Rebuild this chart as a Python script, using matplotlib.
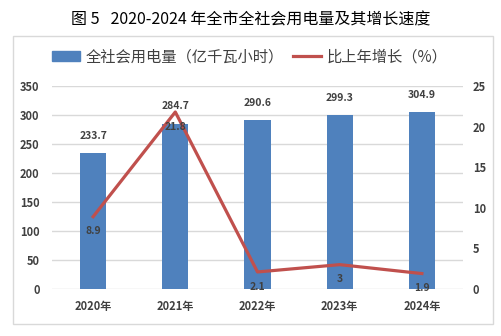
import matplotlib.pyplot as plt
import matplotlib.patches as patches
from matplotlib.lines import Line2D

plt.rcParams['font.family'] = ['Noto Sans CJK SC', 'DejaVu Sans']

years = ['2020年', '2021年', '2022年', '2023年', '2024年']
usage = [233.7, 284.7, 290.6, 299.3, 304.9]
growth = [8.9, 21.8, 2.1, 3, 1.9]
growth_labels = ['8.9', '21.8', '2.1', '3', '1.9']

bar_color = '#4F81BD'
line_color = '#C0504D'
text_color = '#404040'
grid_color = '#D9D9D9'

W, H = 501, 336
fig = plt.figure(figsize=(W / 100, H / 100), dpi=100)

# outer chart frame
fig.patches.append(patches.Rectangle((13 / W, 1 - 324 / H), 480 / W, 288 / H,
                                     transform=fig.transFigure, fill=False,
                                     edgecolor=grid_color, linewidth=1))

fig.text(0.5, 1 - 20 / H, '图 5   2020-2024 年全市全社会用电量及其增长速度',
         ha='center', va='center', fontsize=11.5, color='black')

ax = fig.add_axes([52 / W, 1 - 289 / H, 411 / W, 203 / H])
x = list(range(len(years)))
bars = ax.bar(x, usage, width=0.32, color=bar_color, zorder=2)
ax.set_xlim(-0.5, len(years) - 0.5)
ax.set_ylim(0, 350)
ax.set_yticks(range(0, 351, 50))
ax.grid(axis='y', color=grid_color, linewidth=1, zorder=0)
ax.set_xticks(x)
ax.set_xticklabels(years)
for s in ax.spines.values():
    s.set_visible(False)
ax.tick_params(axis='both', length=0, colors=text_color, labelsize=8)
ax.tick_params(axis='y', pad=9)
ax.tick_params(axis='x', pad=8)
for lbl in ax.get_xticklabels() + ax.get_yticklabels():
    lbl.set_fontweight('bold')

for xi, v in zip(x, usage):
    ax.annotate(f'{v}', (xi, v), xytext=(0, 9), textcoords='offset points',
                ha='center', va='bottom', fontsize=7.5, fontweight='bold',
                color=text_color)

ax2 = ax.twinx()
ax2.plot(x, growth, color=line_color, linewidth=2.3, zorder=3)
ax2.set_ylim(0, 25)
ax2.set_yticks(range(0, 26, 5))
for s in ax2.spines.values():
    s.set_visible(False)
ax2.tick_params(axis='y', length=0, colors=text_color, labelsize=8, pad=7)
for lbl in ax2.get_yticklabels():
    lbl.set_fontweight('bold')

for xi, v, t in zip(x, growth, growth_labels):
    ax2.annotate(t, (xi, v), xytext=(0, -7), textcoords='offset points',
                 ha='center', va='top', fontsize=7.5, fontweight='bold',
                 color=text_color)

handles = [patches.Patch(color=bar_color),
           Line2D([0], [0], color=line_color, linewidth=2.3)]
fig.legend(handles, ['全社会用电量（亿千瓦小时）', '比上年增长（%）'],
           loc='center', bbox_to_anchor=(250 / W, 1 - 57 / H), ncol=2,
           frameon=False, fontsize=11, labelcolor=text_color,
           handlelength=1.8, handleheight=0.6, handletextpad=0.4,
           columnspacing=0.6)

fig.savefig('out.png', dpi=100)
